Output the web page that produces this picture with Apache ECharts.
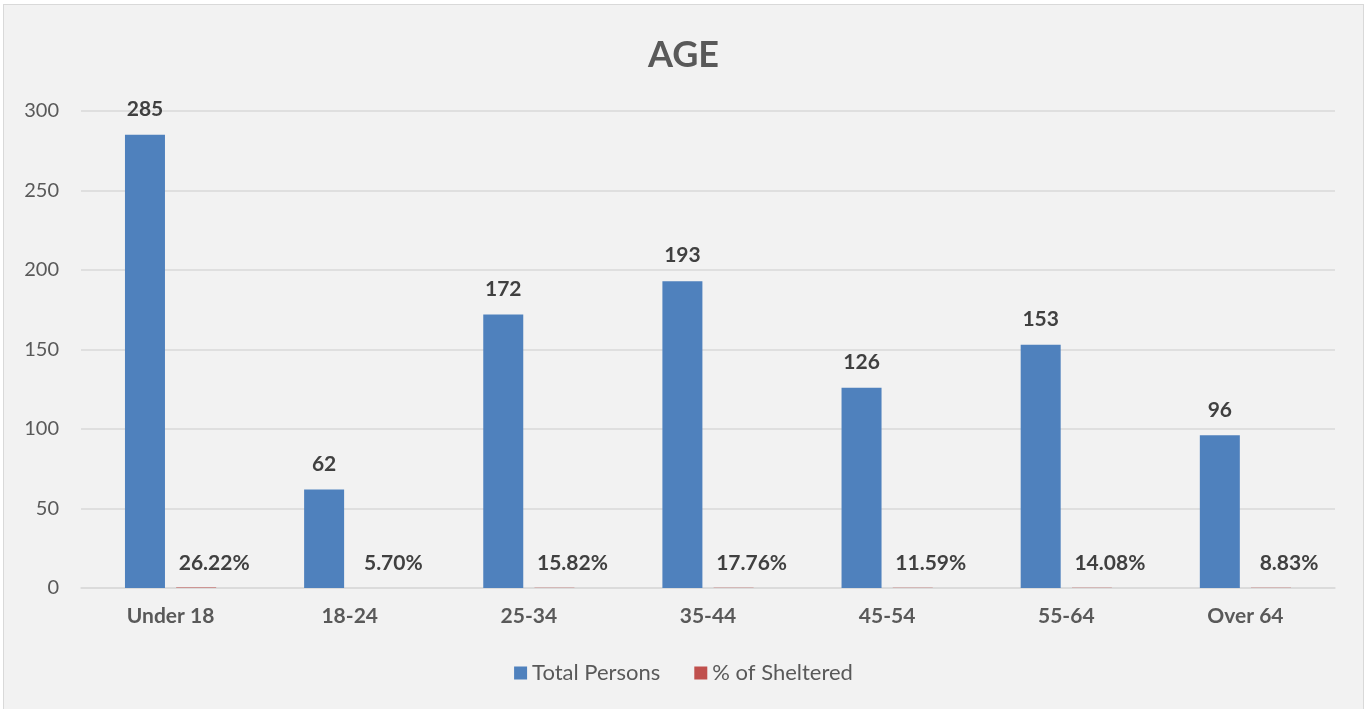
<!DOCTYPE html>
<html>
<head>
<meta charset="utf-8">
<script src="https://cdn.jsdelivr.net/npm/echarts@6/dist/echarts.min.js"></script>
<style>
  html, body { margin: 0; padding: 0; background: #fff; }
  #chart { position: absolute; left: 3px; top: 4px; width: 1359px; height: 710px;
           border: 1px solid #d9d9d9; background: #f2f2f2; }
</style>
</head>
<body>
<div id="chart"></div>
<script>
const categories = ['Under 18', '18-24', '25-34', '35-44', '45-54', '55-64', 'Over 64'];
const totalPersons = [285, 62, 172, 193, 126, 153, 96];
const pctSheltered = [0.2622, 0.0570, 0.1582, 0.1776, 0.1159, 0.1408, 0.0883];
const yTicks = { min: 0, max: 300, interval: 50 };

const chart = echarts.init(document.getElementById('chart'), null, { renderer: 'canvas' });
const font = 'Lato, "Open Sans", sans-serif';

const option = {
  textStyle: { fontFamily: font },
  title: {
    text: 'AGE',
    left: 'center',
    top: 27,
    textStyle: { fontSize: 36, fontWeight: 'bold', color: '#595959', fontFamily: font }
  },
  legend: {
    bottom: 26,
    left: 'center',
    itemWidth: 13,
    itemHeight: 13,
    itemGap: 34,
    icon: 'rect',
    textStyle: { fontSize: 22, color: '#595959', fontFamily: font },
    data: ['Total Persons', '% of Sheltered']
  },
  grid: { left: 77, right: 28, top: 106, bottom: 127 },
  xAxis: {
    type: 'category',
    data: categories,
    axisLine: { lineStyle: { color: '#d9d9d9', width: 1.5 } },
    axisTick: { show: false },
    axisLabel: { fontSize: 21, fontWeight: 'bold', color: '#595959', margin: 18, fontFamily: font }
  },
  yAxis: {
    type: 'value',
    min: yTicks.min,
    max: yTicks.max,
    interval: yTicks.interval,
    axisLine: { show: false },
    axisTick: { show: false },
    splitLine: { lineStyle: { color: '#d9d9d9', width: 1.5 } },
    axisLabel: { fontSize: 20, color: '#595959', margin: 22, fontFamily: font }
  },
  series: [
    {
      name: 'Total Persons',
      type: 'bar',
      data: totalPersons,
      barWidth: 40,
      barGap: '28%',
      itemStyle: { color: '#4f81bd' },
      label: {
        show: true,
        position: 'top',
        distance: 15,
        fontSize: 21,
        fontWeight: 'bold',
        color: '#404040',
        fontFamily: font
      }
    },
    {
      name: '% of Sheltered',
      type: 'bar',
      data: pctSheltered,
      barWidth: 40,
      itemStyle: { color: '#c0504d' },
      label: {
        show: true,
        position: 'top',
        distance: 14,
        offset: [18, 0],
        fontSize: 21,
        fontWeight: 'bold',
        color: '#404040',
        fontFamily: font,
        formatter: p => (p.value * 100).toFixed(2) + '%'
      }
    }
  ]
};

chart.setOption(option);
</script>
</body>
</html>
